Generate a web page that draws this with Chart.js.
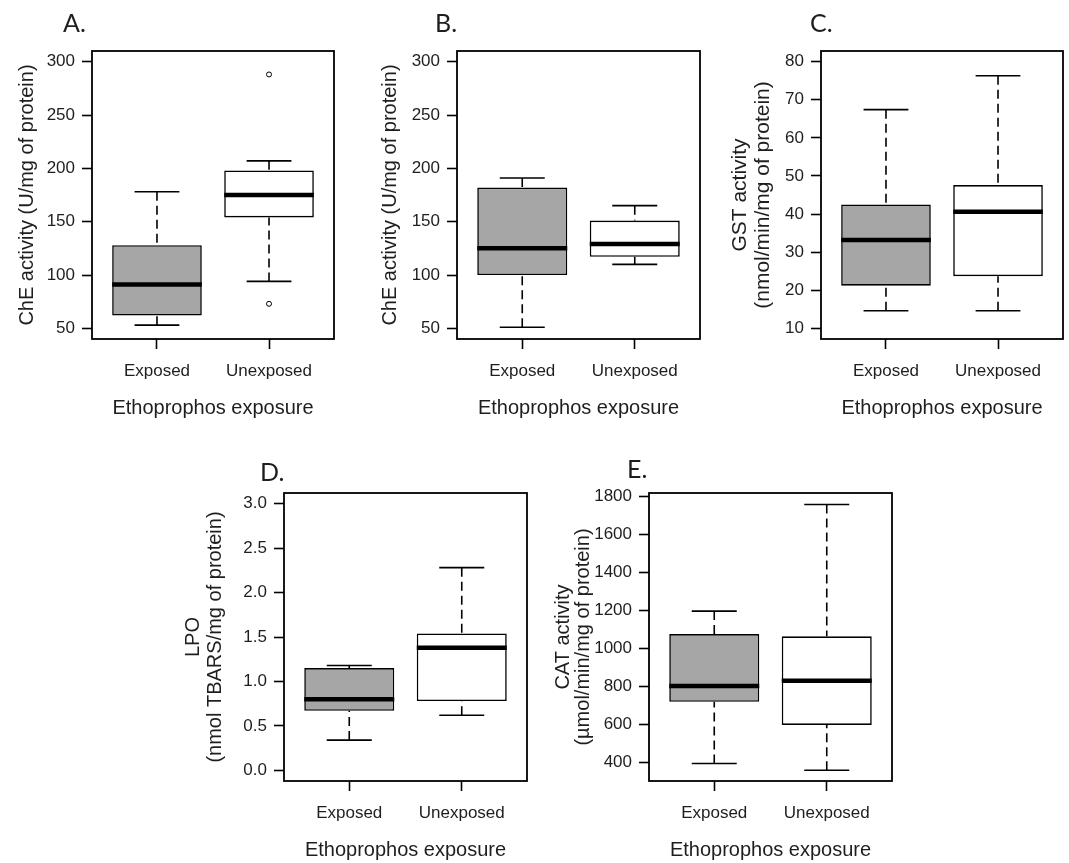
<!DOCTYPE html>
<html>
<head>
<meta charset="utf-8">
<script src="https://cdn.jsdelivr.net/npm/chart.js@4.4.1/dist/chart.umd.min.js"></script>
<style>
  body { margin: 0; background: #fff; overflow: hidden; }
  canvas { position: absolute; }
</style>
</head>
<body>
<canvas id="chartA" width="350" height="421" style="left:0px;top:0px"></canvas>
<canvas id="chartB" width="355" height="421" style="left:355px;top:0px"></canvas>
<canvas id="chartC" width="357" height="421" style="left:712px;top:0px"></canvas>
<canvas id="chartD" width="365" height="423" style="left:170px;top:440px"></canvas>
<canvas id="chartE" width="362" height="423" style="left:540px;top:440px"></canvas>
<script>
const groups = ['Exposed', 'Unexposed'];
const groupX = [1, 2];
const fills = ['#a6a6a6', '#ffffff'];
const xTitle = 'Ethoprophos exposure';

// five-number summaries per group: [lower whisker, Q1, median, Q3, upper whisker]
const statsA = [[53, 62, 91, 128, 178], [94, 154, 175, 198, 207]];
const outliersA = [[], [288, 73]];
const statsB = [[51, 100, 125, 182, 191], [110, 117, 129, 151, 165]];
const statsC = [[14.6, 21.2, 33.2, 42.5, 67.4], [14.6, 23.7, 40.6, 47.6, 76.3]];
const statsD = [[0.34, 0.67, 0.80, 1.15, 1.18], [0.62, 0.78, 1.38, 1.54, 2.28]];
const statsE = [[393, 719, 802, 1076, 1197], [358, 597, 830, 1064, 1759]];

const ticksChE = [50, 100, 150, 200, 250, 300];
const ticksGST = [10, 20, 30, 40, 50, 60, 70, 80];
const ticksLPO = [0, 0.5, 1, 1.5, 2, 2.5, 3];
const ticksCAT = [400, 600, 800, 1000, 1200, 1400, 1600, 1800];

Chart.defaults.font.family = '"Liberation Sans", Arial, sans-serif';
Chart.defaults.color = '#1e1e1e';

function boxPlugin(cfg) {
    return {
        id: 'boxWhiskers' + cfg.letter,
        afterDatasetsDraw(chart) {
            const ctx = chart.ctx;
            const yScale = chart.scales.y;
            const meta = chart.getDatasetMeta(0);
            ctx.save();
            ctx.strokeStyle = '#000';
            cfg.stats.forEach((s, i) => {
                const bar = meta.data[i];
                const x = bar.x;
                const half = bar.width / 2;
                const [lo, q1, med, q3, hi] = s.map(v => yScale.getPixelForValue(v));

                // whiskers, dashed, from the caps to the box
                ctx.lineWidth = 1.6;
                ctx.setLineDash([9, 5]);
                ctx.beginPath();
                ctx.moveTo(x, hi); ctx.lineTo(x, q3);
                ctx.moveTo(x, lo); ctx.lineTo(x, q1);
                ctx.stroke();

                // staples
                ctx.setLineDash([]);
                ctx.beginPath();
                ctx.moveTo(x - half / 2, hi); ctx.lineTo(x + half / 2, hi);
                ctx.moveTo(x - half / 2, lo); ctx.lineTo(x + half / 2, lo);
                ctx.stroke();

                // median
                ctx.lineWidth = 4.5;
                ctx.beginPath();
                ctx.moveTo(x - half, med); ctx.lineTo(x + half, med);
                ctx.stroke();
            });

            // frame round the plot
            const a = chart.chartArea;
            ctx.lineWidth = 1.8;
            ctx.strokeRect(a.left, a.top, a.right - a.left, a.bottom - a.top);

            // panel letter
            ctx.fillStyle = '#1e1e1e';
            ctx.font = '25px Lato, "Open Sans", sans-serif';
            ctx.textAlign = 'left';
            ctx.textBaseline = 'middle';
            ctx.fillText(cfg.letter + '.', a.left + cfg.letterDx, a.top + cfg.letterDy);
            ctx.restore();
        }
    };
}

function makeBoxChart(id, cfg) {
    const outliers = cfg.outliers || [[], []];
    return new Chart(document.getElementById(id), {
        type: 'bar',
        data: {
            datasets: [{
                type: 'bar',
                data: cfg.stats.map((s, i) => ({ x: groupX[i], y: [s[1], s[3]] })),
                backgroundColor: fills,
                borderColor: '#000',
                borderWidth: 1.6,
                borderSkipped: false,
                barPercentage: 1,
                categoryPercentage: 0.8
            }, {
                type: 'scatter',
                data: outliers.flatMap((arr, i) => arr.map(v => ({ x: groupX[i], y: v }))),
                pointRadius: 2.5,
                pointBackgroundColor: '#fff',
                pointBorderColor: '#000',
                pointBorderWidth: 1
            }]
        },
        options: {
            responsive: false,
            animation: false,
            events: [],
            layout: { padding: { left: 0, right: cfg.padRight, top: cfg.padTop, bottom: 0 } },
            plugins: { legend: { display: false }, tooltip: { enabled: false } },
            scales: {
                x: {
                    type: 'linear',
                    min: 0.42,
                    max: 2.58,
                    bounds: 'data',
                    offset: false,
                    afterBuildTicks: s => { s.ticks = groupX.map(v => ({ value: v })); },
                    afterFit: s => { s.height = cfg.xHeight; },
                    ticks: {
                        font: { size: 17 },
                        padding: 12,
                        maxRotation: 0,
                        autoSkip: false,
                        callback: (v, i) => groups[i]
                    },
                    grid: { offset: false, drawOnChartArea: false, tickLength: 10, tickColor: '#000', tickWidth: 1.6 },
                    border: { display: false },
                    title: { display: true, text: xTitle, font: { size: 20 }, padding: { top: 0, bottom: 1 } }
                },
                y: {
                    type: 'linear',
                    min: cfg.yMin,
                    max: cfg.yMax,
                    bounds: 'data',
                    afterBuildTicks: s => { s.ticks = cfg.ticks.map(v => ({ value: v })); },
                    afterFit: s => { s.width = cfg.yWidth; },
                    ticks: {
                        font: { size: 17 },
                        padding: 7,
                        callback: v => cfg.decimals ? v.toFixed(cfg.decimals) : String(v)
                    },
                    grid: { drawOnChartArea: false, tickLength: 10, tickColor: '#000', tickWidth: 1.6 },
                    border: { display: false },
                    title: {
                        display: true,
                        text: cfg.yTitle,
                        font: { size: cfg.yTitleSize, lineHeight: cfg.yTitleLH },
                        padding: { top: cfg.yTitlePad, bottom: 0 }
                    }
                }
            }
        },
        plugins: [boxPlugin(cfg)]
    });
}

makeBoxChart('chartA', {
    letter: 'A', stats: statsA, outliers: outliersA, ticks: ticksChE, yMin: 40, yMax: 310,
    yTitle: 'ChE activity (U/mg of protein)', yTitleSize: 20, yTitleLH: 1.2, yTitlePad: 15,
    yWidth: 92, xHeight: 82, padTop: 51, padRight: 16, letterDx: -29, letterDy: -27
});
makeBoxChart('chartB', {
    letter: 'B', stats: statsB, ticks: ticksChE, yMin: 40, yMax: 310,
    yTitle: 'ChE activity (U/mg of protein)', yTitleSize: 20, yTitleLH: 1.2, yTitlePad: 23,
    yWidth: 102, xHeight: 82, padTop: 51, padRight: 10, letterDx: -22, letterDy: -27
});
makeBoxChart('chartC', {
    letter: 'C', stats: statsC, ticks: ticksGST, yMin: 7.2, yMax: 82.8,
    yTitle: ['GST activity', '(nmol/min/mg of protein)'], yTitleSize: 21, yTitleLH: 1.1, yTitlePad: 16.5,
    yWidth: 109, xHeight: 82, padTop: 51, padRight: 6, letterDx: -11, letterDy: -27
});
makeBoxChart('chartD', {
    letter: 'D', stats: statsD, ticks: ticksLPO, yMin: -0.12, yMax: 3.12, decimals: 1,
    yTitle: ['LPO', '(nmol TBARS/mg of protein)'], yTitleSize: 20, yTitleLH: 1.1, yTitlePad: 12,
    yWidth: 114, xHeight: 82, padTop: 53, padRight: 8, letterDx: -24, letterDy: -20
});
makeBoxChart('chartE', {
    letter: 'E', stats: statsE, ticks: ticksCAT, yMin: 301, yMax: 1820,
    yTitle: ['CAT activity', '(µmol/min/mg of protein)'], yTitleSize: 20, yTitleLH: 1.0, yTitlePad: 13,
    yWidth: 109, xHeight: 82, padTop: 53, padRight: 10, letterDx: -22, letterDy: -23
});
</script>
</body>
</html>
